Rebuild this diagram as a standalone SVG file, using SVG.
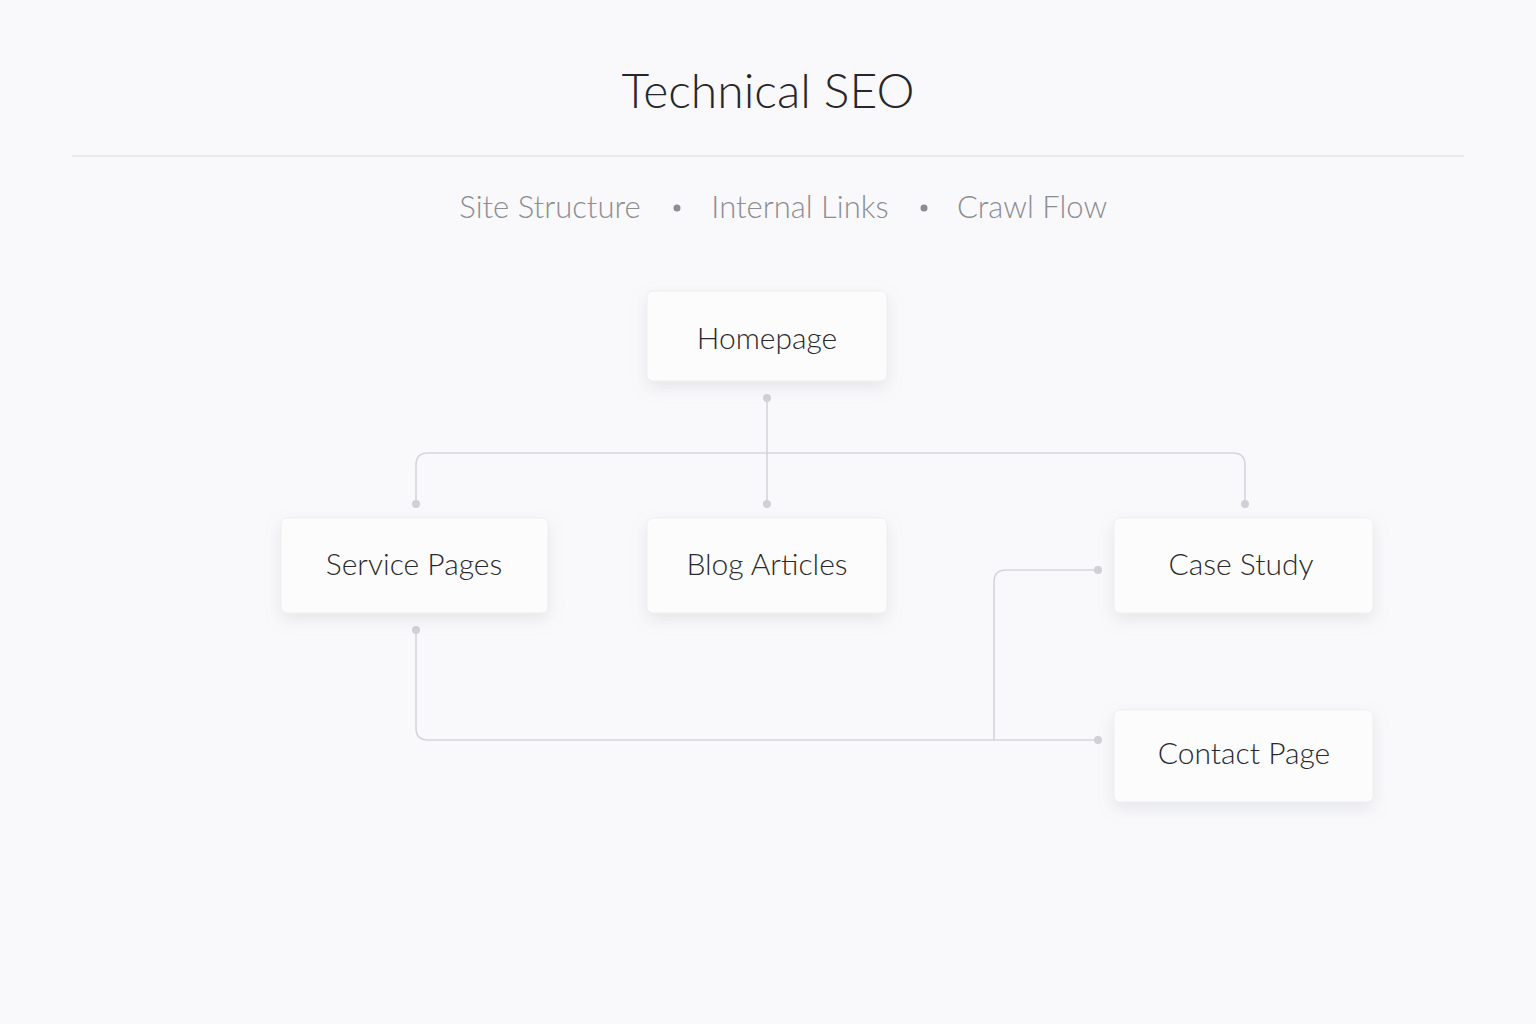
<svg xmlns="http://www.w3.org/2000/svg" width="1536" height="1024" viewBox="0 0 1536 1024">
<defs>
<filter id="sh" x="-20%" y="-30%" width="140%" height="170%"><feDropShadow dx="0" dy="6" stdDeviation="8" flood-color="#8a8fa0" flood-opacity="0.18"/></filter>
<style>
.n{fill:#fcfcfc;stroke:#eeeef1;stroke-width:1}
.t{font-family:Lato,"Noto Sans",sans-serif;font-weight:300;font-size:30px;fill:#2a2a2e;text-anchor:middle}
.c{fill:none;stroke:#d4d6db;stroke-width:1.6}
.d{fill:#cfd1d6}
</style>
</defs>
<rect width="1536" height="1024" fill="#f9f9fb"/>
<text x="768" y="108" font-family="Lato,'Noto Sans',sans-serif" font-weight="300" font-size="48" fill="#27272b" text-anchor="middle">Technical SEO</text>
<line x1="72" y1="156" x2="1464" y2="156" stroke="#e4e5e8" stroke-width="1.5"/>
<g font-family="Lato,'Noto Sans',sans-serif" font-weight="300" font-size="31" fill="#8c8d92" text-anchor="middle">
<text x="550" y="218">Site Structure</text><circle cx="677" cy="208" r="3.5" fill="#8c8d92"/>
<text x="800" y="218">Internal Links</text><circle cx="924" cy="208" r="3.5" fill="#8c8d92"/>
<text x="1032" y="218">Crawl Flow</text>
</g>
<g id="connectors">
<path class="c" d="M767 398V504"/>
<path class="c" d="M767 453H428Q416 453 416 465V504"/>
<path class="c" d="M767 453H1233Q1245 453 1245 465V504"/>
<path class="c" d="M416 630V728Q416 740 428 740H1098"/>
<path class="c" d="M994 740V582Q994 570 1006 570H1098"/>
<circle class="d" cx="767" cy="398" r="4"/><circle class="d" cx="767" cy="504" r="4"/>
<circle class="d" cx="416" cy="504" r="4"/><circle class="d" cx="1245" cy="504" r="4"/>
<circle class="d" cx="416" cy="630" r="4"/><circle class="d" cx="1098" cy="740" r="4"/>
<circle class="d" cx="1098" cy="570" r="4"/>
</g>
<g id="homepage"><rect class="n" filter="url(#sh)" x="647" y="291" width="240" height="90" rx="6"/><text class="t" x="767" y="349">Homepage</text></g>
<g id="service"><rect class="n" filter="url(#sh)" x="281" y="518" width="267" height="95" rx="6"/><text class="t" x="414" y="575">Service Pages</text></g>
<g id="blog"><rect class="n" filter="url(#sh)" x="647" y="518" width="240" height="95" rx="6"/><text class="t" x="767" y="575">Blog Articles</text></g>
<g id="case"><rect class="n" filter="url(#sh)" x="1114" y="518" width="259" height="95" rx="6"/><text class="t" x="1241" y="575">Case Study</text></g>
<g id="contact"><rect class="n" filter="url(#sh)" x="1114" y="710" width="259" height="92" rx="6"/><text class="t" x="1244" y="764">Contact Page</text></g>
</svg>
